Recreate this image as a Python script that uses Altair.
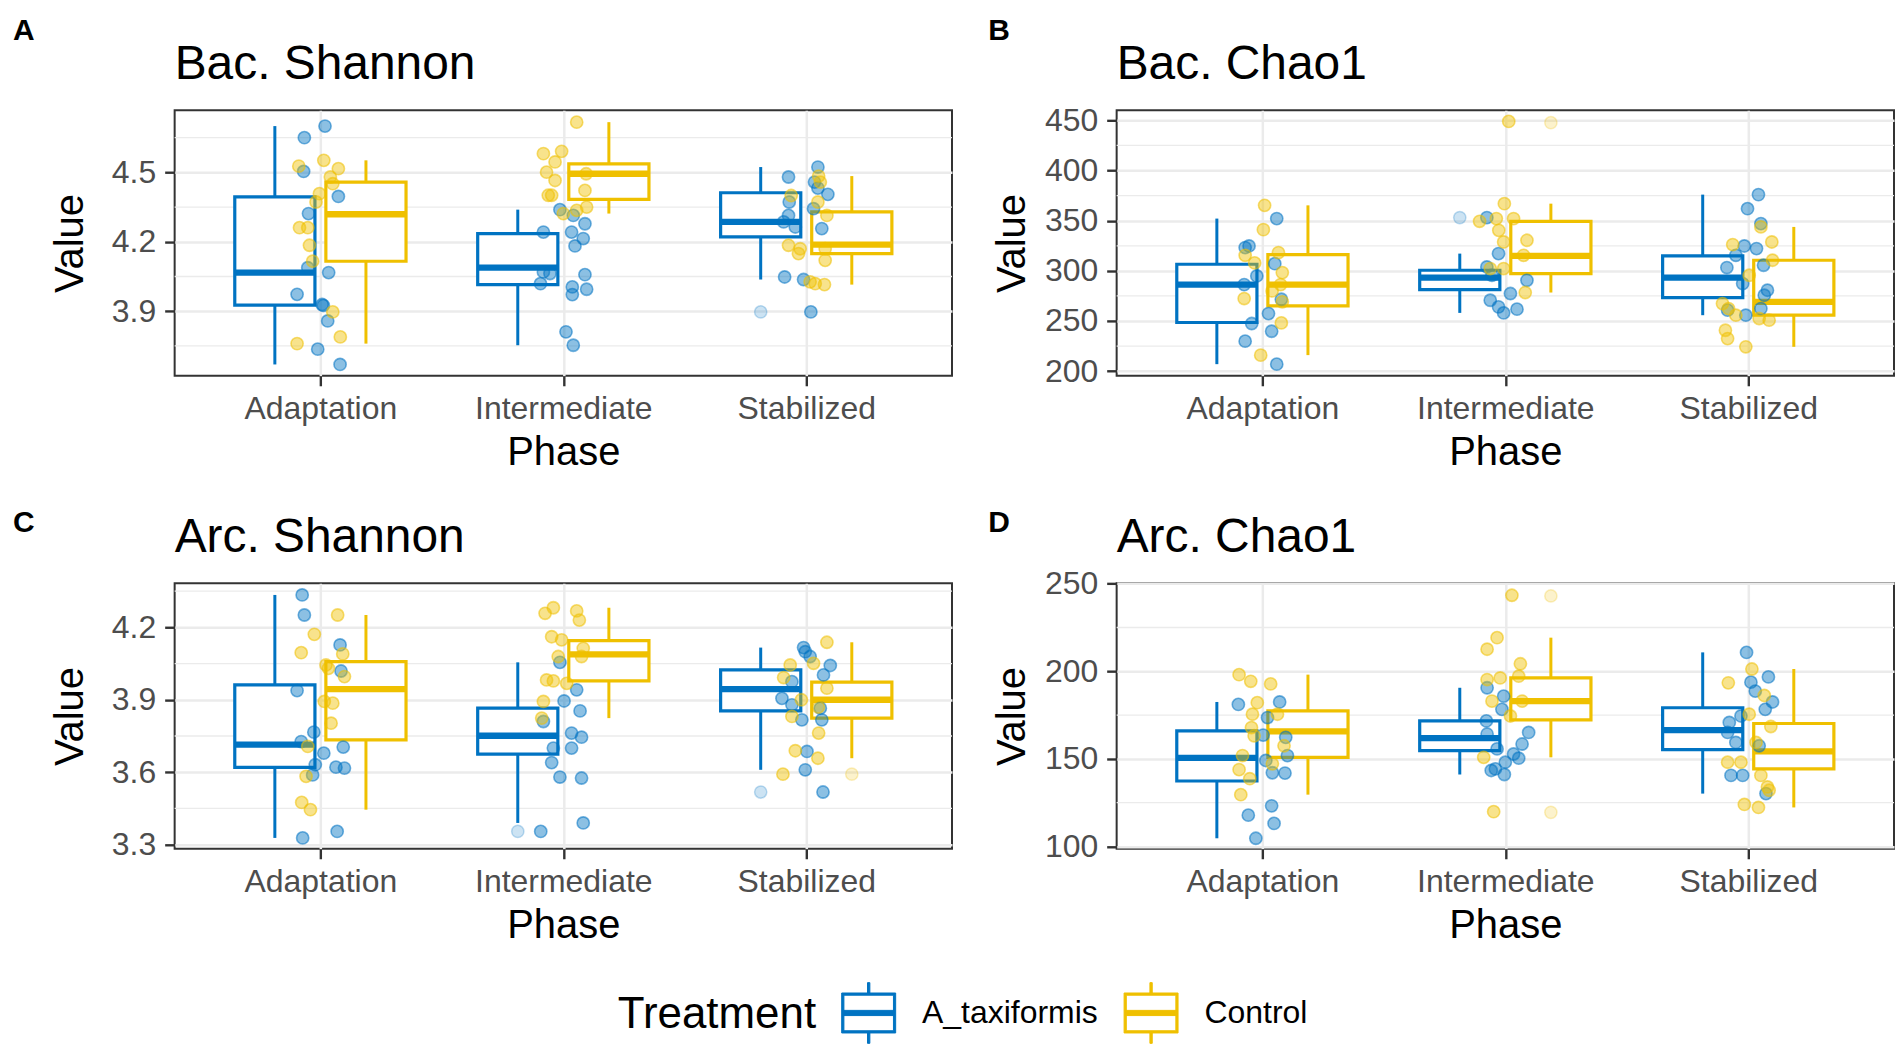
import altair as alt
import pandas as pd

PHASES = ["Adaptation", "Intermediate", "Stabilized"]
TREATMENTS = ["A_taxiformis", "Control"]
COLORS = ["#0073C2", "#EFC000"]
TITLES = ["Bac. Shannon", "Bac. Chao1", "Arc. Shannon", "Arc. Chao1"]
LETTERS = ["A", "B", "C", "D"]

# ---- y axes ----
BSH_DOMAIN = [3.621, 4.768]
BSH_TICKS = [3.9, 4.2, 4.5]
BSH_MINOR = [3.75, 4.05, 4.35, 4.65]
BCH_DOMAIN = [195.4, 460.0]
BCH_TICKS = [200, 250, 300, 350, 400, 450]
BCH_MINOR = [225, 275, 325, 375, 425]
ASH_DOMAIN = [3.283, 4.382]
ASH_TICKS = [3.3, 3.6, 3.9, 4.2]
ASH_MINOR = [3.45, 3.75, 4.05, 4.35]
ACH_DOMAIN = [98.7, 250.2]
ACH_TICKS = [100, 150, 200, 250]
ACH_MINOR = [125, 175, 225]

# ---- box statistics per phase: [lower whisker, Q1, median, Q3, upper whisker] ----
BSH_TAX_BOX = [[3.670, 3.926, 4.067, 4.394, 4.700], [3.753, 4.015, 4.088, 4.235, 4.339], [4.037, 4.221, 4.286, 4.412, 4.523]]
BSH_CTL_BOX = [[3.760, 4.116, 4.319, 4.458, 4.552], [4.322, 4.383, 4.494, 4.537, 4.717], [4.015, 4.149, 4.188, 4.329, 4.484]]
BCH_TAX_BOX = [[207.0, 248.5, 286.3, 306.6, 352.1], [258.1, 281.3, 293.3, 300.6, 317.2], [255.8, 273.4, 293.3, 314.9, 376.0]]
BCH_CTL_BOX = [[216.0, 265.1, 286.3, 316.2, 365.3], [278.4, 297.3, 314.9, 349.4, 367.0], [224.3, 255.8, 269.1, 310.6, 343.8]]
ASH_TAX_BOX = [[3.328, 3.620, 3.714, 3.962, 4.334], [3.390, 3.675, 3.751, 3.865, 4.055], [3.610, 3.854, 3.944, 4.024, 4.116]]
ASH_CTL_BOX = [[3.445, 3.734, 3.944, 4.058, 4.251], [3.824, 3.978, 4.088, 4.145, 4.281], [3.658, 3.824, 3.900, 3.973, 4.138]]
ACH_TAX_BOX = [[104.7, 137.4, 150.6, 166.0, 182.5], [141.1, 154.7, 161.9, 171.7, 190.6], [130.2, 155.3, 166.4, 179.2, 210.8]]
ACH_CTL_BOX = [[129.6, 150.9, 165.7, 177.4, 198.1], [150.9, 172.3, 183.0, 196.2, 219.2], [122.3, 144.3, 154.3, 170.2, 201.3]]

# ---- outliers per phase ----
BSH_TAX_OUT = [[], [], [3.897]]
BSH_CTL_OUT = [[], [], []]
BCH_TAX_OUT = [[], [353.1], []]
BCH_CTL_OUT = [[], [447.7], []]
ASH_TAX_OUT = [[], [3.355], [3.518]]
ASH_CTL_OUT = [[], [], [3.592]]
ACH_TAX_OUT = [[], [], []]
ACH_CTL_OUT = [[], [243.0, 119.5], []]

# ---- sample values per phase, with their jitter (in category units) ----
BSH_TAX_VAL = [
    [4.700, 4.650, 4.504, 4.396, 4.322, 4.088, 4.067, 3.973, 3.929, 3.925, 3.858, 3.736, 3.670],
    [4.339, 4.314, 4.278, 4.242, 4.242, 4.214, 4.182, 4.070, 4.063, 4.058, 4.019, 4.005, 3.995, 3.972, 3.811, 3.753],
    [4.523, 4.480, 4.458, 4.432, 4.405, 4.372, 4.343, 4.314, 4.286, 4.264, 4.257, 4.048, 4.037, 3.897]]
BSH_TAX_JIT = [
    [0.019, -0.066, -0.069, 0.074, -0.049, -0.052, 0.034, -0.096, 0.007, 0.012, 0.030, -0.011, 0.081],
    [-0.014, 0.041, 0.089, -0.082, 0.034, 0.082, 0.048, -0.082, -0.055, 0.089, -0.094, 0.037, 0.096, 0.037, 0.011, 0.041],
    [0.048, -0.073, 0.034, 0.048, 0.089, -0.070, 0.030, -0.073, -0.093, -0.045, 0.064, -0.089, -0.011, 0.019]]
BSH_CTL_VAL = [
    [4.552, 4.527, 4.516, 4.480, 4.451, 4.408, 4.372, 4.261, 4.261, 4.185, 4.116, 3.897, 3.789, 3.760],
    [4.717, 4.591, 4.581, 4.545, 4.501, 4.494, 4.465, 4.422, 4.401, 4.401, 4.350, 4.336, 4.322],
    [4.484, 4.458, 4.400, 4.372, 4.314, 4.185, 4.170, 4.170, 4.149, 4.120, 4.027, 4.019, 4.015]]
BSH_CTL_JIT = [
    [0.014, -0.089, 0.074, 0.041, 0.051, -0.004, -0.018, -0.086, -0.052, -0.045, -0.032, 0.051, 0.082, -0.096],
    [0.055, -0.007, -0.082, -0.034, -0.069, 0.094, -0.034, 0.089, -0.048, -0.062, 0.096, 0.055, 0.000],
    [0.051, 0.058, -0.062, 0.048, 0.085, -0.073, -0.025, 0.078, -0.032, 0.078, 0.016, 0.037, 0.075]]

BCH_TAX_VAL = [
    [352.1, 324.8, 323.2, 307.2, 294.9, 286.3, 271.7, 257.4, 247.5, 239.8, 229.9, 207.0],
    [353.1, 317.2, 303.9, 295.6, 290.6, 277.4, 270.7, 264.1, 261.8, 258.1],
    [376.0, 362.0, 347.1, 324.8, 322.2, 315.5, 305.6, 303.3, 287.3, 280.7, 275.7, 262.4, 260.8, 255.8]]
BCH_TAX_JIT = [
    [0.059, -0.055, -0.071, 0.051, -0.023, -0.075, 0.078, 0.025, -0.044, 0.038, -0.071, 0.059],
    [-0.076, -0.028, -0.076, -0.055, 0.089, 0.021, -0.062, -0.028, 0.048, -0.007],
    [0.042, -0.003, 0.052, -0.016, 0.034, -0.051, 0.063, -0.088, -0.023, 0.079, 0.066, 0.052, -0.085, -0.010]]
BCH_CTL_VAL = [
    [365.3, 341.1, 318.2, 315.5, 307.9, 298.3, 286.3, 280.0, 272.4, 269.1, 248.1, 216.0],
    [449.0, 367.0, 352.1, 352.1, 349.4, 340.4, 330.5, 328.8, 315.5, 302.3, 302.3, 278.4],
    [343.8, 328.8, 326.2, 310.6, 295.6, 267.4, 262.4, 255.8, 252.5, 250.8, 240.8, 232.5, 224.3]]
BCH_CTL_JIT = [
    [0.009, 0.004, 0.066, -0.071, -0.032, 0.082, 0.075, 0.040, -0.075, 0.082, 0.078, -0.007],
    [0.014, -0.004, -0.037, 0.034, -0.106, -0.027, 0.089, -0.007, 0.075, -0.007, -0.062, 0.082],
    [0.052, 0.097, -0.064, 0.100, 0.004, -0.106, -0.081, -0.051, 0.045, 0.086, -0.094, -0.085, -0.010]]

ASH_TAX_VAL = [
    [4.334, 4.251, 4.127, 4.019, 3.938, 3.766, 3.727, 3.704, 3.679, 3.631, 3.621, 3.617, 3.589, 3.355, 3.328],
    [4.055, 3.941, 3.895, 3.854, 3.810, 3.762, 3.745, 3.700, 3.700, 3.640, 3.580, 3.576, 3.390, 3.355],
    [4.116, 4.099, 4.079, 4.042, 4.003, 3.975, 3.906, 3.879, 3.865, 3.817, 3.817, 3.686, 3.610, 3.518]]
ASH_TAX_JIT = [
    [-0.075, -0.066, 0.081, 0.085, -0.096, -0.027, -0.079, 0.094, 0.014, -0.021, 0.064, 0.099, -0.032, 0.069, -0.073],
    [-0.014, 0.055, 0.003, 0.069, -0.082, 0.034, 0.075, -0.041, 0.034, -0.048, -0.014, 0.075, 0.082, -0.093],
    [-0.011, -0.004, 0.016, 0.099, 0.071, -0.059, -0.100, -0.059, 0.058, -0.018, 0.064, 0.003, -0.004, 0.069]]
ASH_CTL_VAL = [
    [4.251, 4.171, 4.095, 4.090, 4.044, 4.030, 3.996, 3.893, 3.886, 3.803, 3.707, 3.583, 3.475, 3.445],
    [4.281, 4.268, 4.258, 4.230, 4.161, 4.148, 4.113, 4.079, 4.079, 3.982, 3.978, 3.968, 3.893, 3.824],
    [4.138, 4.051, 4.044, 3.992, 3.948, 3.900, 3.870, 3.831, 3.762, 3.689, 3.658, 3.592]]
ASH_CTL_JIT = [
    [0.071, -0.025, -0.079, 0.092, 0.023, 0.033, 0.099, 0.016, 0.051, 0.044, -0.052, -0.059, -0.077, -0.041],
    [-0.041, 0.055, -0.075, 0.066, -0.048, -0.007, 0.082, -0.021, 0.075, -0.069, -0.041, 0.014, -0.082, -0.089],
    [0.085, 0.030, -0.066, -0.093, 0.085, -0.020, 0.050, -0.059, 0.051, -0.045, 0.048, -0.096]]

ACH_TAX_VAL = [
    [182.5, 181.1, 173.6, 163.6, 162.3, 151.9, 149.1, 142.1, 141.9, 123.2, 117.9, 113.2, 104.7],
    [190.6, 185.8, 178.3, 171.7, 165.1, 164.2, 158.5, 155.7, 152.8, 150.4, 148.1, 144.3, 143.4, 141.1],
    [210.8, 196.8, 193.8, 188.7, 182.5, 178.3, 174.5, 170.8, 165.1, 159.4, 157.5, 140.6, 140.6, 130.2]]
ACH_TAX_JIT = [
    [0.071, -0.099, 0.021, 0.003, 0.096, 0.103, 0.014, 0.041, 0.093, 0.038, -0.058, 0.048, -0.027],
    [-0.075, -0.007, -0.014, -0.078, 0.096, -0.075, 0.069, -0.034, 0.034, 0.055, 0.000, -0.041, -0.058, -0.004],
    [-0.007, 0.083, 0.011, 0.029, 0.100, 0.070, -0.030, -0.078, -0.085, -0.051, 0.045, -0.071, -0.023, 0.073]]
ACH_CTL_VAL = [
    [198.1, 194.3, 192.8, 182.1, 175.5, 175.5, 167.9, 163.2, 157.5, 151.9, 147.2, 143.9, 138.7, 129.6],
    [243.4, 219.2, 212.6, 204.3, 197.2, 196.2, 195.3, 183.0, 183.0, 174.5, 150.9, 119.9],
    [201.3, 193.4, 186.2, 175.5, 168.5, 159.4, 148.1, 148.1, 140.6, 134.0, 132.1, 124.0, 122.3]]
ACH_CTL_JIT = [
    [-0.096, -0.048, 0.034, -0.021, -0.041, 0.062, -0.045, -0.034, 0.089, -0.082, 0.041, -0.096, -0.052, -0.089],
    [0.027, -0.034, -0.075, 0.062, 0.055, -0.021, -0.075, 0.069, -0.055, 0.021, -0.089, -0.048],
    [0.015, -0.082, 0.066, 0.004, 0.093, 0.032, -0.085, -0.030, 0.052, 0.079, 0.086, -0.016, 0.042]]

# ---------------- styling ----------------
FONT = "Liberation Sans"
W, H = 779, 266
DODGE = 0.1875
HALF = 0.165
GRID = "#EBEBEB"
# legend key drawn as filled outline shapes: box frame (with hole), whiskers, thick median
LEGEND_PATH = ("M-1.04,-0.77H1.04V0.77H-1.04Z "
               "M-0.955,-0.685V0.685H0.955V-0.685Z "
               "M-0.045,-1.17H0.045V-0.77H-0.045Z "
               "M-0.045,0.77H0.045V1.17H-0.045Z "
               "M-0.955,-0.1H0.955V0.1H-0.955Z")
LEG_SHIFT = 444  # legend padding used to move the bottom legend to the centre

cscale = alt.Scale(domain=TREATMENTS, range=COLORS)
xscale = alt.Scale(domain=[0.4, 3.6], nice=False, zero=False)

legend = alt.Legend(
    orient="bottom", direction="horizontal", padding=LEG_SHIFT, offset=40 - LEG_SHIFT,
    title="Treatment", titleOrient="left", titleFontSize=44, titleFontWeight="normal",
    titleColor="black", titleFont=FONT, titlePadding=26, titleBaseline="middle",
    titleLimit=600, labelLimit=600,
    labelFontSize=32, labelColor="black", labelFont=FONT, labelOffset=27,
    columnPadding=23, symbolType=LEGEND_PATH, symbolSize=2704, symbolStrokeWidth=1,
)

xaxis = alt.Axis(
    values=[1, 2, 3],
    labelExpr="['', 'Adaptation', 'Intermediate', 'Stabilized'][datum.value]",
    title="Phase", grid=True, gridColor=GRID, gridWidth=2.5, domain=False,
    ticks=True, tickSize=10, tickWidth=2.4, tickColor="#333333",
    labelFontSize=32, labelColor="#4D4D4D", labelFont=FONT, labelBaseline="alphabetic",
    labelPadding=33, labelFlush=False, labelOverlap=False, labelAngle=0,
    titleFontSize=40, titleFont=FONT, titleColor="black", titleFontWeight="normal",
    titleX=W / 2, titleY=89, titleBaseline="alphabetic", titleAlign="center",
)


def yaxis(ticks, fmt):
    return alt.Axis(
        values=ticks, format=fmt, title="Value", grid=True, gridColor=GRID, gridWidth=2.5,
        domain=False, ticks=True, tickSize=10, tickWidth=2.4, tickColor="#333333",
        labelFontSize=32, labelColor="#4D4D4D", labelFont=FONT, labelPadding=9,
        labelFlush=False, labelOverlap=False,
        titleFontSize=40, titleFont=FONT, titleColor="black", titleFontWeight="normal",
        titleX=-92, titleY=H / 2, titleAngle=270, titleBaseline="alphabetic", titleAlign="center",
    )


def panel(k, domain, ticks, minor, fmt, boxes, vals, jits, outs, label_x, label_y):
    yscale = alt.Scale(domain=domain, nice=False, zero=False)
    ya = yaxis(ticks, fmt)

    box_rows, pt_rows, out_rows = [], [], []
    for t, treat in enumerate(TREATMENTS):
        side = -DODGE if t == 0 else DODGE
        for p in range(3):
            lo, q1, med, q3, hi = boxes[t][p]
            xc = p + 1 + side
            box_rows.append(dict(treatment=treat, xc=xc, xl=xc - HALF, xr=xc + HALF,
                                 lo=lo, q1=q1, med=med, q3=q3, hi=hi))
            for v in outs[t][p]:
                out_rows.append(dict(treatment=treat, x=xc, v=v))
            for v, j in zip(vals[t][p], jits[t][p]):
                pt_rows.append(dict(treatment=treat, x=p + 1 + j, v=v))
    bdf = pd.DataFrame(box_rows)
    pdf = pd.DataFrame(pt_rows)
    odf = pd.DataFrame(out_rows) if out_rows else pd.DataFrame(dict(treatment=[], x=[], v=[]))

    def X(f):
        return alt.X(f, type="quantitative", scale=xscale, axis=xaxis)

    def Y(f):
        return alt.Y(f, type="quantitative", scale=yscale, axis=ya)

    st = alt.Stroke("treatment:N", scale=cscale, legend=None)
    fl = alt.Fill("treatment:N", scale=cscale, legend=None)

    minor_layer = alt.Chart(pd.DataFrame(dict(m=minor))).mark_rule(
        color=GRID, strokeWidth=1.3).encode(y=Y("m"))
    # first layer using the stroke channel carries the legend
    wup = alt.Chart(bdf).mark_rule(strokeWidth=3.0).encode(
        x=X("xc"), y=Y("q3"), y2="hi",
        stroke=alt.Stroke("treatment:N", scale=cscale, legend=legend))
    wdn = alt.Chart(bdf).mark_rule(strokeWidth=3.0).encode(x=X("xc"), y=Y("lo"), y2="q1", stroke=st)
    rects = alt.Chart(bdf).mark_rect(fill="white", strokeWidth=3.2).encode(
        x=X("xl"), x2="xr", y=Y("q1"), y2="q3", stroke=st)
    meds = alt.Chart(bdf).mark_rule(strokeWidth=6.3).encode(x=X("xl"), x2="xr", y=Y("med"), stroke=st)
    outl = alt.Chart(odf).mark_circle(size=150, fillOpacity=0.2, strokeOpacity=0.25, strokeWidth=1.5).encode(
        x=X("x"), y=Y("v"), fill=fl, stroke=st)
    pts = alt.Chart(pdf).mark_circle(size=150, fillOpacity=0.45, strokeOpacity=0.55, strokeWidth=1.6).encode(
        x=X("x"), y=Y("v"), fill=fl, stroke=st)
    ttl = alt.Chart(pd.DataFrame(dict(t=[TITLES[k]]))).mark_text(
        font=FONT, fontSize=48, align="left", baseline="alphabetic", color="black").encode(
        text="t:N", x=alt.value(0), y=alt.value(-31.6))
    lab = alt.Chart(pd.DataFrame(dict(t=[LETTERS[k]]))).mark_text(
        font=FONT, fontSize=30, fontWeight="bold", align="left", baseline="alphabetic", color="black").encode(
        text="t:N", x=alt.value(label_x), y=alt.value(label_y))
    return alt.layer(minor_layer, wup, wdn, rects, meds, outl, pts, ttl, lab).properties(width=W, height=H)


pA = panel(0, BSH_DOMAIN, BSH_TICKS, BSH_MINOR, ".1f",
           [BSH_TAX_BOX, BSH_CTL_BOX], [BSH_TAX_VAL, BSH_CTL_VAL], [BSH_TAX_JIT, BSH_CTL_JIT],
           [BSH_TAX_OUT, BSH_CTL_OUT], -162, -71)
pB = panel(1, BCH_DOMAIN, BCH_TICKS, BCH_MINOR, "d",
           [BCH_TAX_BOX, BCH_CTL_BOX], [BCH_TAX_VAL, BCH_CTL_VAL], [BCH_TAX_JIT, BCH_CTL_JIT],
           [BCH_TAX_OUT, BCH_CTL_OUT], -128.7, -71)
pC = panel(2, ASH_DOMAIN, ASH_TICKS, ASH_MINOR, ".1f",
           [ASH_TAX_BOX, ASH_CTL_BOX], [ASH_TAX_VAL, ASH_CTL_VAL], [ASH_TAX_JIT, ASH_CTL_JIT],
           [ASH_TAX_OUT, ASH_CTL_OUT], -162, -51)
pD = panel(3, ACH_DOMAIN, ACH_TICKS, ACH_MINOR, "d",
           [ACH_TAX_BOX, ACH_CTL_BOX], [ACH_TAX_VAL, ACH_CTL_VAL], [ACH_TAX_JIT, ACH_CTL_JIT],
           [ACH_TAX_OUT, ACH_CTL_OUT], -128.7, -51)

row1 = alt.hconcat(pA, pB, spacing=33)
row2 = alt.hconcat(pC, pD, spacing=33)
chart = alt.vconcat(row1, row2, spacing=34).properties(
    padding={"left": 4, "top": 5, "right": 0, "bottom": 0}
).configure(font=FONT).configure_view(stroke="#333333", strokeWidth=2)

chart.save("out.html", embed_options={"renderer": "svg", "actions": False})
